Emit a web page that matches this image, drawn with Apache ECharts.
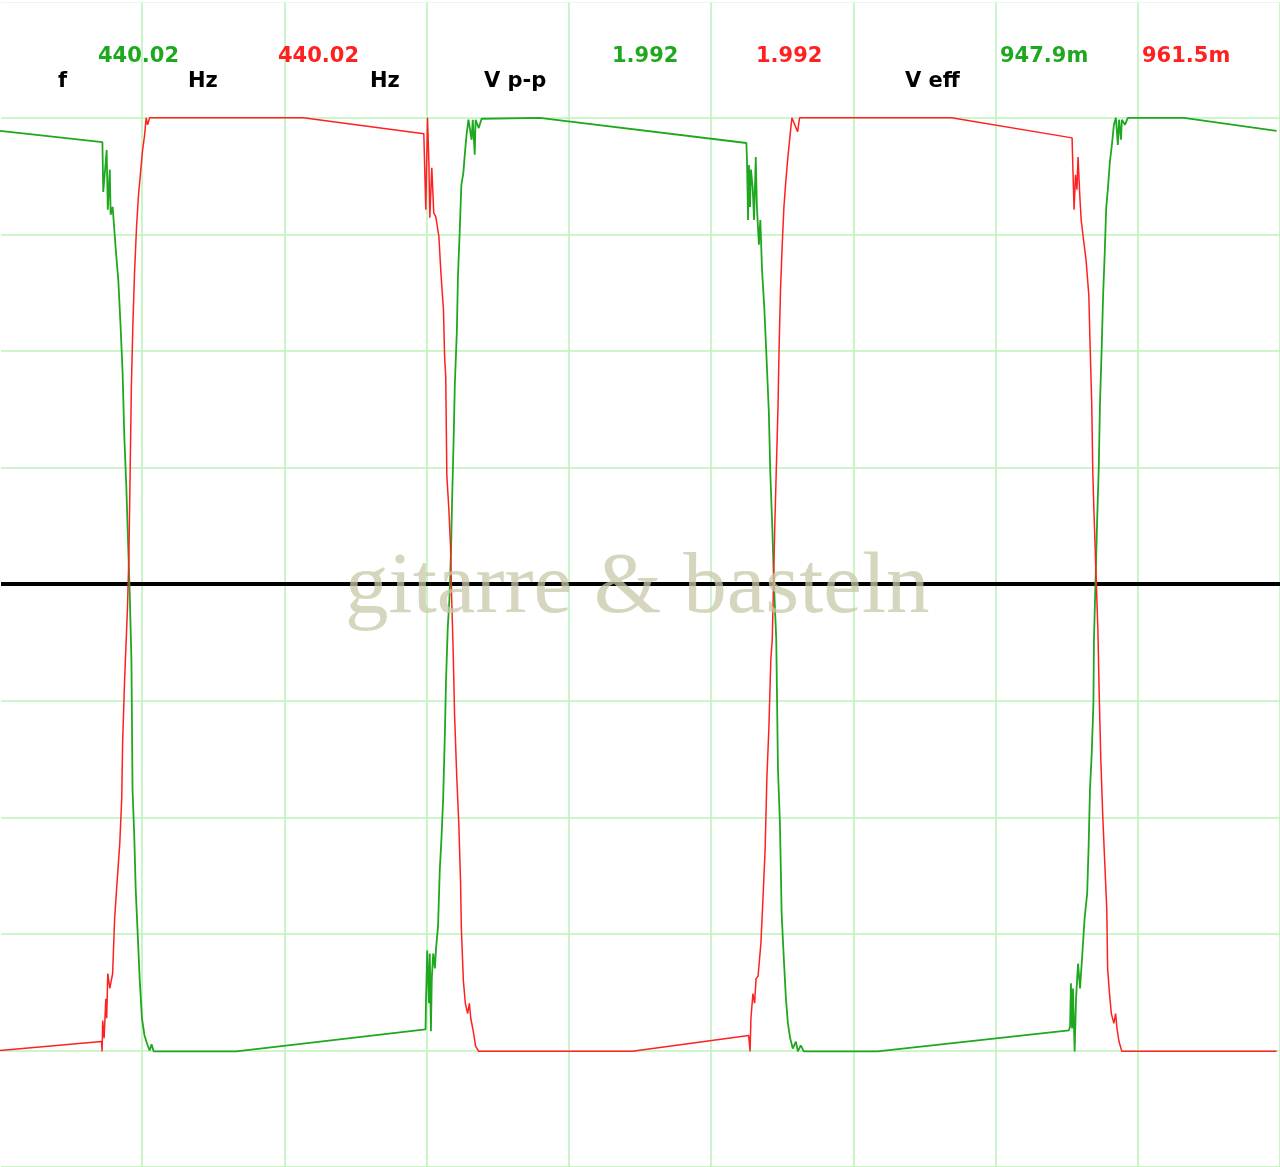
<!DOCTYPE html>
<html lang="de">
<head>
	<meta charset="UTF-8">
	<title>Oszilloskop 440 Hz</title>
	<style type="text/css">
		html, body{
			margin: 0;
			padding: 0;
			background: #fff;
		}
		.scope{
			width: 1280px;
			height: 1167px;
		}
	</style>
</head>
<body>
	<div class="scope"></div>
	<script type="text/javascript" src="https://cdn.jsdelivr.net/npm/echarts@6/dist/echarts.min.js"></script>
	<script type="text/javascript">
		// Kanal 1 (gruen): Zeit in ms, Spannung in V
		var greenT = [0, 0.360, 0.363, 0.368, 0.375, 0.379, 0.386, 0.389, 0.396, 0.407, 0.416, 0.424, 0.431, 0.437, 0.444, 0.451,
			0.456, 0.462, 0.466, 0.472, 0.477, 0.484, 0.491, 0.499, 0.508, 0.519, 0.526, 0.533, 0.540, 0.831,
			1.496, 1.498, 1.502, 1.508, 1.511, 1.515, 1.518, 1.523, 1.529, 1.533, 1.540, 1.546, 1.552, 1.558, 1.564, 1.568, 1.574, 1.580,
			1.586, 1.589, 1.594, 1.599, 1.606, 1.610, 1.616, 1.622, 1.629, 1.634, 1.640, 1.647, 1.651, 1.658, 1.662, 1.669, 1.672, 1.683, 1.693, 1.897,
			2.624, 2.626, 2.630, 2.633, 2.637, 2.640, 2.646, 2.651, 2.657, 2.661, 2.668, 2.673, 2.679, 2.687, 2.694, 2.703, 2.708, 2.715, 2.721,
			2.729, 2.735, 2.742, 2.748, 2.755, 2.763, 2.770, 2.778, 2.787, 2.798, 2.805, 2.815, 2.826, 3.085,
			3.758, 3.762, 3.765, 3.769, 3.772, 3.778, 3.783, 3.790, 3.797, 3.804, 3.813, 3.822, 3.827, 3.832, 3.838, 3.844, 3.846,
			3.854, 3.857, 3.863, 3.867, 3.873, 3.878, 3.884, 3.889, 3.896, 3.902, 3.909, 3.916, 3.923, 3.930, 3.934, 3.941, 3.944, 3.955, 3.965, 4.162, 4.488];
		var greenV = [0.972, 0.948, 0.841, 0.878, 0.931, 0.803, 0.889, 0.792, 0.809, 0.717, 0.651, 0.552, 0.454, 0.317, 0.210, 0.075,
			-0.019, -0.161, -0.441, -0.540, -0.653, -0.749, -0.846, -0.931, -0.968, -0.989, -1.000, -0.987, -1.002, -1.002,
			-0.955, -0.884, -0.786, -0.899, -0.792, -0.959, -0.846, -0.792, -0.824, -0.781, -0.734, -0.614, -0.546, -0.460, -0.321, -0.208, -0.096, -0.032,
			0.079, 0.171, 0.289, 0.428, 0.540, 0.659, 0.754, 0.856, 0.882, 0.921, 0.963, 0.996, 1.000, 0.953, 0.996, 0.921, 0.996, 0.978, 0.998, 1.000,
			0.946, 0.910, 0.781, 0.899, 0.809, 0.889, 0.852, 0.781, 0.916, 0.809, 0.728, 0.781, 0.674, 0.593, 0.497, 0.368, 0.240, 0.124, 0,
			-0.118, -0.396, -0.514, -0.707, -0.796, -0.889, -0.942, -0.974, -0.996, -0.981, -1.002, -0.989, -1.002, -1.002,
			-0.957, -0.948, -0.856, -0.953, -0.867, -1.002, -0.889, -0.814, -0.867, -0.803, -0.717, -0.664, -0.567, -0.439, -0.364, -0.257, -0.118,
			0.064, 0.133, 0.253, 0.385, 0.503, 0.617, 0.713, 0.807, 0.856, 0.906, 0.942, 0.985, 1.000, 0.942, 0.996, 0.953, 0.996, 0.985, 1.000, 1.000, 0.972];

		// Kanal 2 (rot)
		var redT = [0, 0.357, 0.359, 0.361, 0.366, 0.372, 0.375, 0.379, 0.386, 0.396, 0.403, 0.410, 0.421, 0.428, 0.431, 0.438, 0.448,
			0.453, 0.456, 0.462, 0.467, 0.473, 0.480, 0.487, 0.494, 0.501, 0.508, 0.514, 0.519, 0.526, 1.066,
			1.490, 1.494, 1.497, 1.503, 1.508, 1.511, 1.518, 1.525, 1.532, 1.543, 1.550, 1.559, 1.563, 1.567, 1.571, 1.578, 1.584,
			1.588, 1.593, 1.598, 1.606, 1.613, 1.619, 1.622, 1.629, 1.636, 1.644, 1.650, 1.655, 1.665, 1.672, 1.683, 2.223,
			2.632, 2.637, 2.640, 2.647, 2.653, 2.658, 2.665, 2.675, 2.682, 2.690, 2.696, 2.703, 2.710, 2.715,
			2.724, 2.729, 2.735, 2.739, 2.744, 2.750, 2.756, 2.763, 2.770, 2.777, 2.784, 2.794, 2.804, 2.811, 3.345,
			3.769, 3.772, 3.776, 3.781, 3.786, 3.790, 3.796, 3.801, 3.808, 3.818, 3.828, 3.832, 3.838, 3.842, 3.846,
			3.860, 3.864, 3.870, 3.877, 3.884, 3.891, 3.894, 3.900, 3.907, 3.916, 3.922, 3.927, 3.934, 3.944, 4.488];
		var redV = [-1.000, -0.981, -1.002, -0.936, -0.974, -0.889, -0.931, -0.835, -0.867, -0.835, -0.717, -0.653, -0.557, -0.460, -0.343, -0.206, -0.054,
			0.058, 0.176, 0.428, 0.552, 0.668, 0.766, 0.835, 0.882, 0.929, 0.961, 1.000, 0.985, 1.000, 1.000,
			0.966, 0.871, 0.803, 1.000, 0.899, 0.786, 0.893, 0.796, 0.788, 0.745, 0.668, 0.589, 0.488, 0.445, 0.231, 0.161, 0.079,
			-0.032, -0.139, -0.278, -0.417, -0.514, -0.636, -0.739, -0.850, -0.899, -0.921, -0.899, -0.931, -0.963, -0.991, -1.002, -1.002,
			-0.968, -1.002, -0.931, -0.878, -0.899, -0.846, -0.841, -0.771, -0.679, -0.567, -0.417, -0.310, -0.161, -0.118,
			0.128, 0.242, 0.375, 0.507, 0.632, 0.728, 0.809, 0.867, 0.916, 0.959, 1.000, 0.985, 0.970, 1.000, 1.000,
			0.957, 0.889, 0.803, 0.878, 0.846, 0.916, 0.835, 0.781, 0.745, 0.696, 0.619, 0.520, 0.390, 0.236, 0.154,
			-0.103, -0.225, -0.375, -0.499, -0.599, -0.696, -0.824, -0.874, -0.921, -0.942, -0.921, -0.953, -0.981, -1.002, -1.002];

		// Messwerte oben
		var readouts = [
			{text: 'f', color: '#000', x: 58, y: 71},
			{text: '440.02', color: '#1fa81f', x: 98, y: 46},
			{text: 'Hz', color: '#000', x: 188, y: 71},
			{text: '440.02', color: '#ff2020', x: 278, y: 46},
			{text: 'Hz', color: '#000', x: 370, y: 71},
			{text: 'V p-p', color: '#000', x: 484, y: 71},
			{text: '1.992', color: '#1fa81f', x: 612, y: 46},
			{text: '1.992', color: '#ff2020', x: 756, y: 46},
			{text: 'V eff', color: '#000', x: 905, y: 71},
			{text: '947.9m', color: '#1fa81f', x: 1000, y: 46},
			{text: '961.5m', color: '#ff2020', x: 1142, y: 46}
		];

		function zip(t, v){
			var out = [];
			t.forEach(function (ele, index){
				out.push([ele, v[index]]);
			});
			return out;
		}

		var myChart = echarts.init(document.querySelector('.scope'));

		var graphics = readouts.map(function (ele){
			return {
				type: 'text',
				left: ele.x,
				top: ele.y,
				z: 10,
				style: {
					text: ele.text,
					fill: ele.color,
					font: 'bold 21px "DejaVu Sans", Verdana, sans-serif'
				}
			};
		});
		// oberer und linker Rand ohne Rasterlinie
		graphics.push({
			type: 'rect',
			z: 2.5,
			shape: {x: 0, y: 0, width: 1280, height: 2.4},
			style: {fill: '#fff'}
		});
		graphics.push({
			type: 'rect',
			z: 2.5,
			shape: {x: 0, y: 0, width: 1, height: 1167},
			style: {fill: '#fff'}
		});
		graphics.push({
			type: 'text',
			left: 345,
			top: 546,
			z: 20,
			style: {
				text: 'gitarre & basteln',
				fill: 'rgba(200,200,170,0.75)',
				font: '87px "Liberation Serif", "DejaVu Serif", serif'
			}
		});

		var option = {
			animation: false,
			backgroundColor: '#fff',
			grid: {
				left: 0,
				top: 1.25,
				width: 1283,
				height: 1167.5,
				containLabel: false
			},
			xAxis: {
				type: 'value',
				min: 0,
				max: 4.5,
				interval: 0.5,
				axisLabel: {show: false},
				axisTick: {show: false},
				axisLine: {
					show: true,
					onZero: true,
					lineStyle: {color: '#000', width: 4}
				},
				splitLine: {
					show: true,
					lineStyle: {color: '#bdf3bb', width: 1.6}
				}
			},
			yAxis: {
				type: 'value',
				min: -1.25,
				max: 1.25,
				interval: 0.25,
				axisLabel: {show: false},
				axisTick: {show: false},
				axisLine: {show: false},
				splitLine: {
					show: true,
					lineStyle: {color: '#bdf3bb', width: 1.6}
				}
			},
			graphic: graphics,
			series: [
				{
					name: 'CH1',
					type: 'line',
					data: zip(greenT, greenV),
					showSymbol: false,
					silent: true,
					z: 3,
					lineStyle: {color: '#1fa81f', width: 1.8}
				},
				{
					name: 'CH2',
					type: 'line',
					data: zip(redT, redV),
					showSymbol: false,
					silent: true,
					z: 3,
					lineStyle: {color: '#ff2020', width: 1.5}
				}
			]
		};
		myChart.setOption(option);
	</script>
</body>
</html>
